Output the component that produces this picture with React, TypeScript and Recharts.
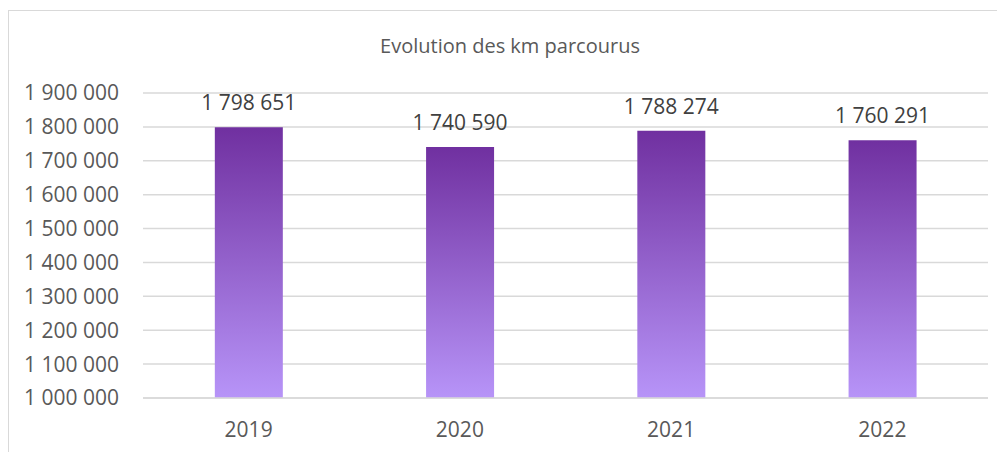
import React from "react";
import { BarChart, Bar, XAxis, YAxis, CartesianGrid, LabelList } from "recharts";

const years = ["2019", "2020", "2021", "2022"];
const kmValues = [1798651, 1740590, 1788274, 1760291];
const yTicks = [1000000, 1100000, 1200000, 1300000, 1400000, 1500000, 1600000, 1700000, 1800000, 1900000];
const title = "Evolution des km parcourus";

const data = years.map((y, i) => ({ year: y, km: kmValues[i] }));

const fmt = (v: number) => String(Math.round(v)).replace(/\B(?=(\d{3})+(?!\d))/g, " ");

const FONT = "'Open Sans', 'Noto Sans', sans-serif";

const renderLabel = (props: any) => {
  const { x, y, width, value } = props;
  return (
    <text
      x={Number(x) + Number(width) / 2}
      y={Number(y) - 17}
      textAnchor="middle"
      fill="#404040"
      fontSize={21}
      fontFamily={FONT}
    >
      {fmt(Number(value))}
    </text>
  );
};

export default function App() {
  return (
    <div
      style={{
        position: "relative",
        width: 1000,
        height: 450,
        marginTop: 2,
        border: "1px solid #d9d9d9",
        background: "#fff",
        fontFamily: FONT,
      }}
    >
      <div
        style={{
          position: "absolute",
          top: 22,
          left: 0,
          width: 1002,
          textAlign: "center",
          fontSize: 20,
          color: "#595959",
          lineHeight: "26px",
        }}
      >
        {title}
      </div>
      <BarChart
        width={1000}
        height={440}
        data={data}
        margin={{ top: 82, right: 21, left: 0, bottom: 23 }}
        barCategoryGap="34%"
      >
        <defs>
          <linearGradient id="barGrad" x1="0" y1="0" x2="0" y2="1">
            <stop offset="0%" stopColor="#7030a0" />
            <stop offset="100%" stopColor="#b794f8" />
          </linearGradient>
        </defs>
        <CartesianGrid vertical={false} stroke="#d9d9d9" strokeWidth={1.5} />
        <XAxis
          dataKey="year"
          tickLine={false}
          axisLine={{ stroke: "#d9d9d9", strokeWidth: 1.5 }}
          tickSize={0}
          tickMargin={24}
          height={30}
          tick={{ fill: "#595959", fontSize: 21, fontFamily: FONT }}
        />
        <YAxis
          domain={[1000000, 1900000]}
          ticks={yTicks}
          interval={0}
          tickFormatter={fmt}
          tickLine={false}
          axisLine={false}
          tickSize={0}
          tickMargin={24}
          width={134}
          tick={{ fill: "#595959", fontSize: 21, fontFamily: FONT }}
        />
        <Bar dataKey="km" fill="url(#barGrad)" isAnimationActive={false}>
          <LabelList dataKey="km" content={renderLabel} />
        </Bar>
      </BarChart>
    </div>
  );
}
